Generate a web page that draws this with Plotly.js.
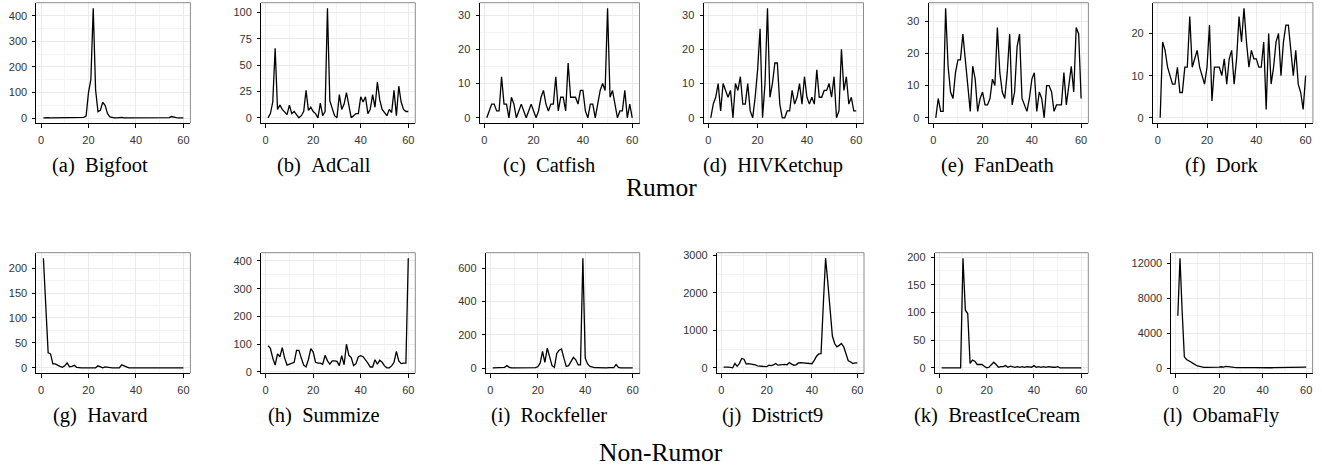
<!DOCTYPE html>
<html><head><meta charset="utf-8">
<script src="https://cdn.plot.ly/plotly-3.0.1.min.js"></script>
<style>html,body{margin:0;padding:0;background:#fff;overflow:hidden}</style>
</head><body><div id="chart" style="width:1322px;height:468px"></div>
<script>
// ---- data ----
const days = [1,2,3,4,5,6,7,8,9,10,11,12,13,14,15,16,17,18,19,20,21,22,23,24,25,26,27,28,29,30,
              31,32,33,34,35,36,37,38,39,40,41,42,43,44,45,46,47,48,49,50,51,52,53,54,55,56,57,58,59,60];

const bigfoot = [1,2,2,1,1,1,1,1,2,1, 1,1,1,1,1,1,2,3,8,100, 150,430,110,25,30,62,50,18,5,2,
                 1,1,2,3,1,1,2,1,1,1, 1,1,1,1,1,1,1,1,1,2, 1,2,1,2,6,3,2,1,2,1];
const adcall = [0,4,15,66,8,12,8,5,3,12, 4,6,3,0,2,6,26,7,10,6, 4,0,14,2,6,104,16,8,2,0,
                22,8,13,24,12,0,2,4,4,20, 15,20,4,8,22,10,34,17,8,5, 2,8,5,26,2,30,15,8,6,6];
const catfish = [0,2,4,4,2,2,12,4,4,0, 6,4,0,2,4,2,0,2,4,2, 0,2,6,8,4,2,4,4,12,2,
                 6,6,2,16,6,6,6,4,8,8, 2,0,4,4,0,4,8,10,8,32, 6,8,4,0,2,2,8,0,4,0];
const hivketchup = [0,4,6,10,2,10,8,6,8,0, 10,8,12,4,4,10,2,0,6,14, 26,0,10,32,6,10,16,16,4,0,
                    0,2,2,8,4,6,10,4,12,6, 4,6,4,14,6,6,8,8,10,6, 12,0,2,20,8,12,4,6,2,2];
const fandeath = [0,6,2,2,34,16,8,6,14,18, 18,26,18,10,2,16,12,2,6,8, 4,4,6,12,10,28,14,8,6,14,
                  26,4,8,22,26,6,4,2,6,12, 14,2,8,6,0,10,10,8,2,4, 4,4,14,4,10,16,8,28,26,6];
const dork = [0,18,16,12,10,8,8,12,6,6, 12,12,24,12,14,16,12,10,8,12, 22,4,12,12,12,10,14,8,14,16,
              8,14,24,18,26,18,12,16,14,14, 12,12,18,2,20,8,12,18,20,10, 18,22,22,16,10,16,8,6,2,10];
const havard = [220,110,30,28,8,8,5,3,1,4, 10,2,3,5,1,0,0,0,0,0, 0,0,0,4,2,0,2,1,0,0,
                0,0,0,6,4,2,0,0,0,0, 0,0,0,0,0,0,0,0,0,0, 0,0,0,0,0,0,0,0,0,0];
const summize = [95,85,50,25,65,55,88,50,25,28, 30,35,78,78,50,25,18,45,84,72, 35,32,32,28,60,40,28,40,40,38,
                 23,59,26,100,60,52,23,30,55,59, 55,45,32,18,18,44,28,42,35,22, 15,15,22,35,74,40,30,32,32,410];
const rockfeller = [2,2,2,2,2,5,15,5,2,2, 2,2,2,3,6,3,2,2,3,8, 30,100,35,120,70,15,5,88,108,115,
                    60,10,15,45,65,50,20,20,660,60, 25,10,5,3,3,2,3,2,2,3, 2,3,22,5,2,2,3,2,3,2];
const district9 = [20,30,20,10,0,115,40,120,250,230, 100,110,100,110,80,50,50,40,40,30,
                   70,60,80,115,70,80,90,90,80,140, 100,70,80,130,140,130,120,110,100,110,
                   200,310,370,380,1700,2930,2270,1620,850,650, 560,600,650,560,340,190,160,115,130,130];
const breasticecream = [0,0,0,0,0,0,0,0,0,198, 104,98,8,14,12,6,6,6,3,0, 1,5,10,6,1,2,2,4,1,3,
                        2,1,2,1,2,1,2,1,1,4, 1,2,1,2,1,2,1,1,1,2, 0,0,0,0,0,0,0,0,0,0];
const obamafly = [6000,12600,6500,1300,1000,800,700,550,400,250, 200,120,100,100,90,90,80,80,90,110,
                  160,130,200,150,100,90,80,70,80,60, 50,40,40,50,60,60,50,60,50,60,
                  60,70,50,50,60,60,70,60,60,60, 70,60,50,40,50,60,70,80,100,120];

const series = [bigfoot, adcall, catfish, hivketchup, fandeath, dork,
                havard, summize, rockfeller, district9, breasticecream, obamafly];
const captions = ['(a)\u00a0\u00a0Bigfoot','(b)\u00a0\u00a0AdCall','(c)\u00a0\u00a0Catfish','(d)\u00a0\u00a0HIVKetchup',
                  '(e)\u00a0\u00a0FanDeath','(f)\u00a0\u00a0Dork','(g)\u00a0\u00a0Havard','(h)\u00a0\u00a0Summize',
                  '(i)\u00a0\u00a0Rockfeller','(j)\u00a0\u00a0District9','(k)\u00a0\u00a0BreastIceCream','(l)\u00a0\u00a0ObamaFly'];
const groupLabels = ['Rumor', 'Non-Rumor'];
const yTickStep = [100, 25, 10, 10, 10, 10, 50, 100, 200, 1000, 50, 4000];
const xTickStep = 20;

// ---- layout (pixels) ----
const W = 1322, H = 468;
const panelLeft  = [36.4, 261, 479.5, 703.5, 928.5, 1152.9, 36.4, 261, 485.7, 716.9, 934.7, 1171.4];
const panelRight = [190.4, 415.3, 639.5, 863.5, 1088.4, 1312.9, 190.4, 415.3, 639.7, 864, 1088.3, 1312.6];
const rowTop = [2.7, 252.7], rowBottom = [123.3, 373.3];
const captionCenter = [100, 324.3, 548.6, 772.9, 997.2, 1221.5];
const captionY = [165, 415];
const groupY = [187, 452];

const tickFont = {family: 'Liberation Sans, Arial, sans-serif', size: 11, color: '#333'};
const traces = [], shapes = [], annotations = [];
const layout = {
  width: W, height: H, margin: {l:0, r:0, t:0, b:0},
  paper_bgcolor: '#fff', plot_bgcolor: '#fff', showlegend: false,
  font: tickFont
};

series.forEach((vals, i) => {
  const n = i + 1, sfx = n === 1 ? '' : String(n);
  const row = i < 6 ? 0 : 1;
  traces.push({x: days, y: vals, type: 'scatter', mode: 'lines',
    line: {color: '#000', width: 1.3}, xaxis: 'x' + sfx, yaxis: 'y' + sfx, hoverinfo: 'skip'});
  const xmin = Math.min(...days), xmax = Math.max(...days);
  const ymin = Math.min(...vals), ymax = Math.max(...vals);
  const xs = xmax - xmin, ys = ymax - ymin;
  const common = {
    showline: true, linecolor: '#000', linewidth: 1, mirror: false,
    ticks: 'outside', ticklen: 3, tickwidth: 1, tickcolor: '#000',
    showgrid: true, gridcolor: '#ebebeb', gridwidth: 1, zeroline: false,
    tickfont: tickFont, tickformat: 'd',
    fixedrange: true
  };
  layout['xaxis' + sfx] = Object.assign({}, common, {
    domain: [panelLeft[i] / W, panelRight[i] / W],
    anchor: 'y' + sfx, range: [xmin - 0.05 * xs, xmax + 0.05 * xs],
    tick0: 0, dtick: xTickStep, ticklen: 4, ticklabelstandoff: 2,
    minor: {dtick: xTickStep / 2, tick0: 0, showgrid: true, gridcolor: '#f4f4f4', gridwidth: 1}
  });
  layout['yaxis' + sfx] = Object.assign({}, common, {
    domain: [1 - rowBottom[row] / H, 1 - rowTop[row] / H],
    anchor: 'x' + sfx, range: [ymin - 0.05 * ys, ymax + 0.05 * ys],
    tick0: 0, dtick: yTickStep[i], ticklabelstandoff: 3,
    minor: {dtick: yTickStep[i] / 2, tick0: 0, showgrid: true, gridcolor: '#f4f4f4', gridwidth: 1}
  });
  // grey top & right border of the panel
  shapes.push({type: 'line', xref: 'x' + sfx + ' domain', yref: 'y' + sfx + ' domain',
    x0: 0, x1: 1, y0: 1, y1: 1, line: {color: '#8c8c8c', width: 1}, layer: 'above'});
  shapes.push({type: 'line', xref: 'x' + sfx + ' domain', yref: 'y' + sfx + ' domain',
    x0: 1, x1: 1, y0: 0, y1: 1, line: {color: '#8c8c8c', width: 1}, layer: 'above'});
  annotations.push({text: captions[i], xref: 'paper', yref: 'paper',
    x: captionCenter[i % 6] / W, y: 1 - captionY[row] / H, xanchor: 'center', yanchor: 'middle',
    showarrow: false, font: {family: 'Liberation Serif, Times New Roman, serif', size: 20.5, color: '#000'}});
});
groupLabels.forEach((t, r) => {
  annotations.push({text: t, xref: 'paper', yref: 'paper', x: 661 / W, y: 1 - groupY[r] / H,
    xanchor: 'center', yanchor: 'middle', showarrow: false,
    font: {family: 'Liberation Serif, Times New Roman, serif', size: 25.5, color: '#000'}});
});
layout.shapes = shapes;
layout.annotations = annotations;
Plotly.newPlot('chart', traces, layout, {staticPlot: true, displayModeBar: false});
</script></body></html>
